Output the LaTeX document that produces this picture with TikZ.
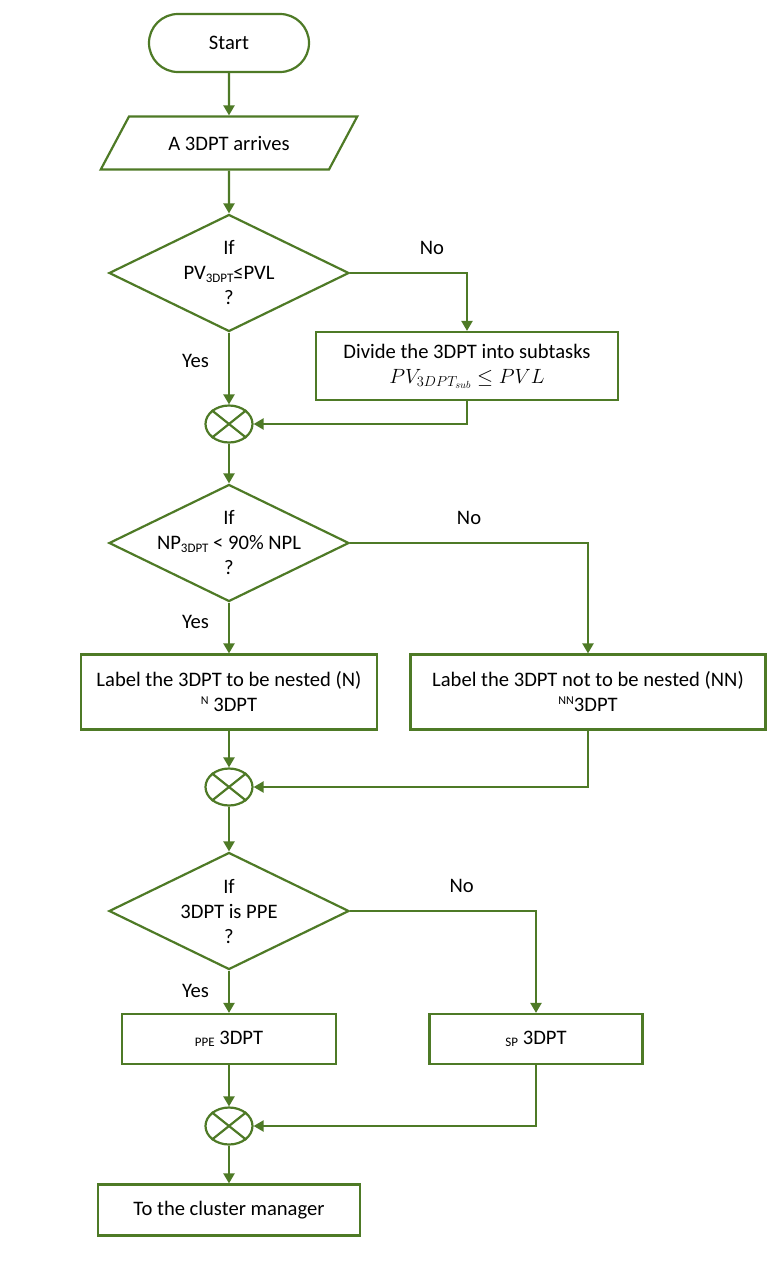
\RequirePackage{fix-cm}
\documentclass[tikz,border=0pt]{standalone}
\usepackage{fontspec}
\setmainfont{Carlito}
\usetikzlibrary{shapes.geometric, shapes.misc, arrows.meta}

\definecolor{flowgreen}{RGB}{78,122,38}
\newcommand{\lowsub}[1]{\raisebox{-0.25ex}{\fontsize{13}{13}\selectfont #1}}
\newcommand{\highsup}[1]{\raisebox{0.75ex}{\fontsize{12}{12}\selectfont #1}}

\begin{document}
\begin{tikzpicture}[x=1pt, y=-1pt,
    every node/.style={font=\fontsize{20.6}{25}\selectfont, text=black, inner sep=2pt},
    line/.style={flowgreen, line width=2.2pt},
    flow/.style={line, -{Triangle[length=10pt, width=11pt]}},
    box/.style={rectangle, draw=flowgreen, line width=2.2pt, align=center},
    decision/.style={diamond, draw=flowgreen, line width=2.2pt, inner sep=0pt,
        minimum width=240pt, minimum height=117pt},
    decisiontext/.style={align=center},
    junction/.style={ellipse, draw=flowgreen, line width=2.2pt, inner sep=0pt,
        minimum width=47pt, minimum height=37pt}
]
    \useasboundingbox (0,0) rectangle (780,1272);

    % 1. Start and input
    \node[rounded rectangle, draw=flowgreen, line width=2.2pt,
        minimum width=164pt, minimum height=58pt] (start) at (229,43) {Start};
    \node[trapezium, trapezium left angle=46, trapezium right angle=134,
        trapezium stretches=true, draw=flowgreen, line width=2.2pt,
        minimum width=257pt, minimum height=53pt] (arrive) at (229,143) {A 3DPT arrives};

    % 2. First decision: size check
    \node[decision, label={[decisiontext]center:{If\\PV\lowsub{3DPT}≤PVL\\?}}] (ifpv) at (229,273) {};
    \node[box, minimum width=302pt, minimum height=68pt] (divide) at (467,366)
        {Divide the 3DPT into subtasks\\$PV_{3DPT_{sub}} \leq PVL$};
    \node[junction] (join1) at (229,424) {};

    % 3. Second decision: nesting
    \node[decision, label={[decisiontext]center:{If\\NP\lowsub{3DPT} < 90\% NPL\\?}}] (ifnp) at (229,543) {};
    \node[box, minimum width=296pt, minimum height=75pt] (nested) at (229,692)
        {Label the 3DPT to be nested (N)\\\highsup{N} 3DPT};
    \node[box, minimum width=355pt, minimum height=75pt] (notnested) at (588,692)
        {Label the 3DPT not to be nested (NN)\\\highsup{NN}3DPT};
    \node[junction] (join2) at (229,787) {};

    % 4. Third decision: PPE
    \node[decision, label={[decisiontext]center:{If\\3DPT is PPE\\?}}] (ifppe) at (229,911) {};
    \node[box, minimum width=214pt, minimum height=50pt] (ppe) at (229,1039) {\lowsub{PPE} 3DPT};
    \node[box, minimum width=213pt, minimum height=50pt] (sp) at (536,1039) {\lowsub{SP} 3DPT};
    \node[junction] (join3) at (229,1126) {};

    \node[box, minimum width=262pt, minimum height=51pt] (manager) at (229,1210) {To the cluster manager};

    % crosses inside the junctions
    \foreach \j in {join1, join2, join3} {
        \draw[line] (\j.north west) -- (\j.south east)
                    (\j.north east) -- (\j.south west);
    }

    % 5. Connectors
    \draw[flow] (start) -- (arrive);
    \draw[flow] (arrive) -- (ifpv);
    \draw[flow] (ifpv.east) -| node[pos=0.35, above=15pt] {No} (divide.north);
    \draw[flow] (ifpv) -- node[pos=0.4, left=17pt] {Yes} (join1);
    \draw[flow] (divide.south) |- (join1.east);

    \draw[flow] (join1) -- (ifnp);
    \draw[flow] (ifnp.east) -| node[pos=0.25, above=15pt] {No} (notnested.north);
    \draw[flow] (ifnp) -- node[pos=0.38, left=17pt] {Yes} (nested);
    \draw[flow] (nested) -- (join2);
    \draw[flow] (notnested.south) |- (join2.east);

    \draw[flow] (join2) -- (ifppe);
    \draw[flow] (ifppe.east) -| node[pos=0.3, above=15pt] {No} (sp.north);
    \draw[flow] (ifppe) -- node[pos=0.47, left=17pt] {Yes} (ppe);
    \draw[flow] (ppe) -- (join3);
    \draw[flow] (sp.south) |- (join3.east);
    \draw[flow] (join3) -- (manager);
\end{tikzpicture}
\end{document}
